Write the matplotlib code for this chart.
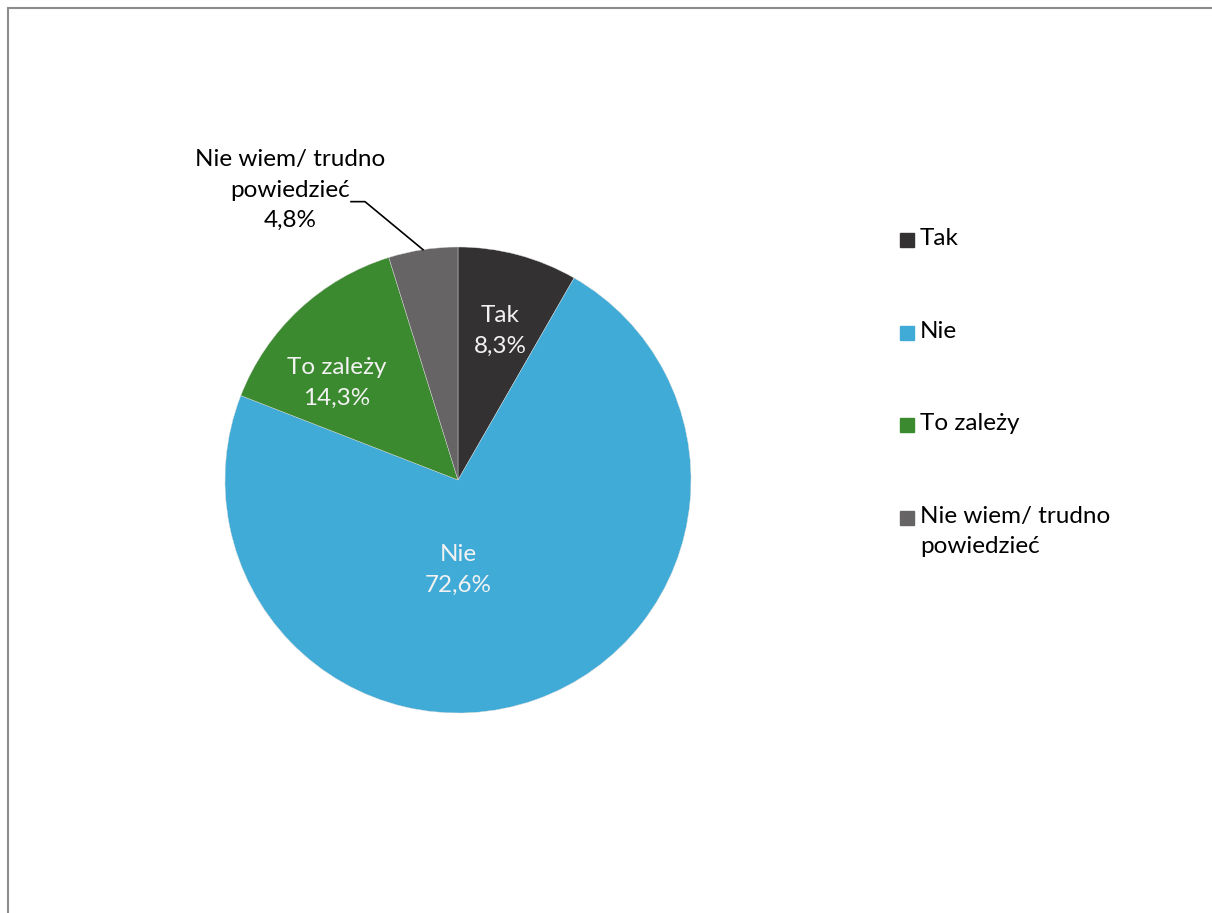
import matplotlib
matplotlib.use('Agg')
import matplotlib.pyplot as plt
import matplotlib.patches as mpatches
import numpy as np

plt.rcParams['font.family'] = ['Lato', 'DejaVu Sans']

# dane
categories = ['Tak', 'Nie', 'To zależy', 'Nie wiem/ trudno\npowiedzieć']
values = [8.3, 72.6, 14.3, 4.8]
colors = ['#333132', '#3fabd6', '#3c8a2f', '#676465']
text_colors = ['#f2f2f2', '#f2f2f2', '#f2f2f2', 'black']

W, H = 1212, 913
fig = plt.figure(figsize=(W / 100, H / 100), dpi=100)
ax = fig.add_axes([0, 0, 1, 1])

cx, cy, r = 458, H - 480, 233
fs = 17.5

wedges, _ = ax.pie(values, colors=colors, startangle=90, counterclock=False,
                   center=(cx, cy), radius=r, frame=True,
                   wedgeprops=dict(edgecolor='#d9d9d9', linewidth=0.3))
ax.set_xlim(0, W)
ax.set_ylim(0, H)
ax.set_aspect('equal')
ax.axis('off')

# polozenie etykiet (jak w excelu)
label_pos = [(500, 331), (458, 570), (337, 383), (290, 190)]
for i, (cat, v) in enumerate(zip(categories, values)):
    px, py = label_pos[i]
    txt = cat + '\n' + ('%.1f%%' % v).replace('.', ',')
    ax.text(px, H - py, txt, ha='center', va='center', fontsize=fs,
            color=text_colors[i], linespacing=1.55)

# linia do ostatniej etykiety
w = wedges[3]
mid = np.deg2rad((w.theta1 + w.theta2) / 2)
x0, y0 = cx + r * np.cos(mid), cy + r * np.sin(mid)
x1, y1 = x0 - 58, y0 + 48
ax.plot([x0, x1, x1 - 14], [y0, y1, y1], color='black', lw=1.2)

# legenda (recznie, kwadrat przy pierwszej linii)
for i, (cat, c) in enumerate(zip(categories, colors)):
    ly = H - (240 + i * 92.7)
    ax.add_patch(mpatches.Rectangle((900, ly - 7), 14, 14, color=c))
    ax.text(920, ly + 12, cat, ha='left', va='top', fontsize=fs,
            linespacing=1.55)

# ramka
fig.patches.append(mpatches.Rectangle((8 / W, -0.1), 1.2, 1 - 8 / H + 0.1,
                                      transform=fig.transFigure, fill=False,
                                      edgecolor='#8c8c8c', linewidth=1.5))

fig.savefig('out.png', dpi=100)
